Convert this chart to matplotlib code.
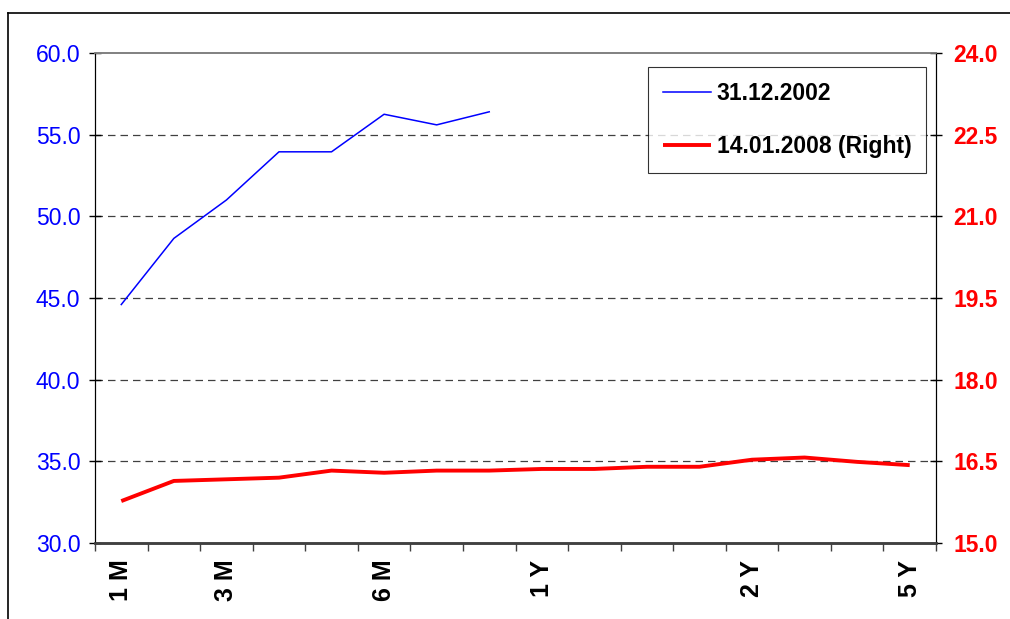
import matplotlib
matplotlib.use("Agg")
import matplotlib.pyplot as plt
import numpy as np

plt.rcParams['font.family'] = ['Liberation Sans', 'DejaVu Sans']

tick_labels = ["1 M", "", "3 M", "", "", "6 M", "", "", "1 Y", "", "", "", "2 Y", "", "", "5 Y"]
series_2002 = [44.6, 48.65, 51.0, 53.95, 53.95, 56.25, 55.6, 56.4,
               np.nan, np.nan, np.nan, np.nan, np.nan, np.nan, np.nan, np.nan]
series_2008 = [15.77, 16.14, 16.17, 16.20, 16.33, 16.29, 16.33, 16.33,
               16.36, 16.36, 16.40, 16.40, 16.53, 16.57, 16.49, 16.43]
label_2002 = "31.12.2002"
label_2008 = "14.01.2008 (Right)"

fig = plt.figure(figsize=(10.10, 6.19), dpi=100)
# outer frame
fig.add_artist(plt.Line2D([8/1010, 8/1010], [0, 1-13/619], transform=fig.transFigure, color='black', lw=1.2))
fig.add_artist(plt.Line2D([8/1010, 1], [1-13/619, 1-13/619], transform=fig.transFigure, color='black', lw=1.2))

ax = fig.add_axes([95/1010, 1-543/619, (936-95)/1010, (543-53)/619])
ax2 = ax.twinx()

n = len(tick_labels)
x = np.arange(n)
l1, = ax.plot(x, series_2002, color='#0000FF', lw=1.1, label=label_2002)
l2, = ax2.plot(x, series_2008, color='#FF0000', lw=2.8, label=label_2008, solid_capstyle='butt')

ax.set_xlim(-0.5, n - 0.5)
ax.set_ylim(30, 60)
ax2.set_ylim(15, 24)
ax.set_yticks(np.arange(30, 60.1, 5))
ax2.set_yticks(np.arange(15, 24.1, 1.5))
ax.set_yticklabels([f"{v:.1f}" for v in np.arange(30, 60.1, 5)])
ax2.set_yticklabels([f"{v:.1f}" for v in np.arange(15, 24.1, 1.5)])

for v in np.arange(35, 56, 5):
    ax.axhline(v, color='#404040', lw=0.9, ls=(0, (6, 4)), zorder=0)

ax.set_xticks(np.arange(-0.5, n, 1.0))
ax.set_xticklabels([])
ax.set_xticks(x, minor=True)
ax.set_xticklabels(tick_labels, minor=True, rotation=90, fontweight='bold', fontsize=18)
ax.tick_params(axis='x', which='major', direction='out', length=6, width=1, color='#404040')
ax.tick_params(axis='x', which='minor', length=0, pad=12)

ax.tick_params(axis='y', direction='inout', length=9, width=1, labelcolor='#0000FF', labelsize=16.5, pad=6)
ax2.tick_params(axis='y', direction='inout', length=9, width=1, labelcolor='#FF0000', labelsize=16.5, pad=8)
for t in ax2.get_yticklabels():
    t.set_fontweight('bold')

for a in (ax, ax2):
    a.spines['top'].set_color('#808080')
    a.spines['top'].set_linewidth(1.2)
    a.spines['bottom'].set_color('#404040')
    a.spines['bottom'].set_linewidth(1.8)
    a.spines['left'].set_color('black')
    a.spines['right'].set_color('black')

leg = ax2.legend(handles=[l1, l2], loc='upper left', bbox_to_anchor=(648/1010, 1-67/619), bbox_transform=fig.transFigure,
                 prop={'weight': 'bold', 'size': 16.5}, frameon=True, fancybox=False, edgecolor='black',
                 handlelength=2.1, labelspacing=1.3, borderpad=0.65, handletextpad=0.25, borderaxespad=0)
leg.get_frame().set_linewidth(0.8)

fig.savefig("out.png", dpi=100)
